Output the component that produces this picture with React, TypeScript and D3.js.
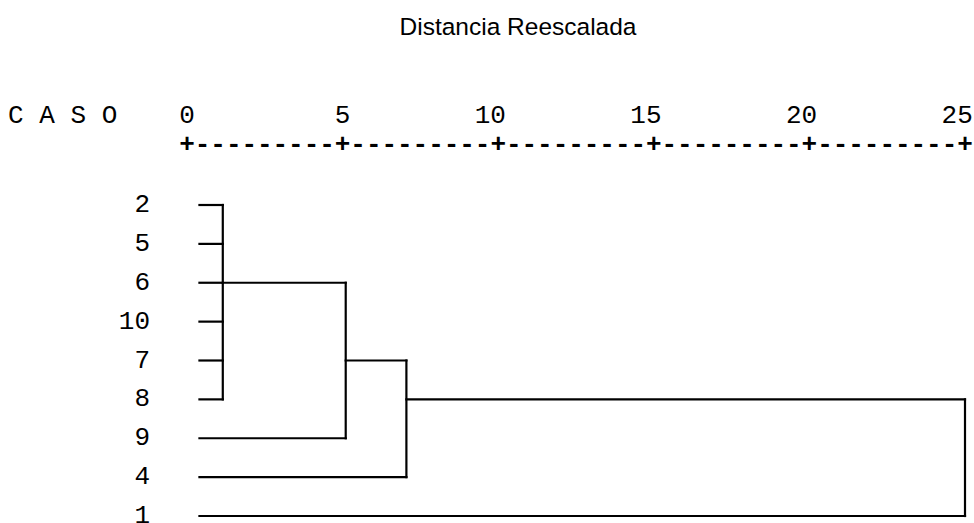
import * as d3 from 'd3';
import * as React from 'react';

const WIDTH = 974;
const HEIGHT = 523;

// case labels, top to bottom as they appear in the dendrogram
const cases = ['2', '5', '6', '10', '7', '8', '9', '4', '1'];
const axisTicks = [0, 5, 10, 15, 20, 25];
const leafStart = 0.4;

// agglomeration steps: children are leaf rows or previous merges,
// height is the rescaled distance, outRow the row the joined branch leaves from
type Child = { leaf?: number; merge?: number };
const mergeChildren: Child[][] = [
  [{ leaf: 0 }, { leaf: 1 }, { leaf: 2 }, { leaf: 3 }, { leaf: 4 }, { leaf: 5 }],
  [{ merge: 0 }, { leaf: 6 }],
  [{ merge: 1 }, { leaf: 7 }],
  [{ merge: 2 }, { leaf: 8 }],
];
const mergeHeights = [1.15, 5.1, 7.05, 25];
const mergeOutRows = [2, 4, 5, 5];

const MONO = '"Liberation Mono", "Courier New", monospace';

const App = () => {
  const x = d3.scaleLinear().domain([0, 25]).range([187, 965]);
  const y = d3.scalePoint<string>().domain(cases).range([205, 516]);
  const pitch = x(0.5) - x(0);

  const rowY = (r: number) => y(cases[r]) as number;

  const segments: { x1: number; y1: number; x2: number; y2: number }[] = [];
  mergeChildren.forEach((children, i) => {
    const h = x(mergeHeights[i]);
    const ys: number[] = [];
    children.forEach(c => {
      const cy = c.leaf !== undefined ? rowY(c.leaf) : rowY(mergeOutRows[c.merge as number]);
      const cx = c.leaf !== undefined ? x(leafStart) : x(mergeHeights[c.merge as number]);
      ys.push(cy);
      segments.push({ x1: cx, y1: cy, x2: h, y2: cy });
    });
    segments.push({ x1: h, y1: d3.min(ys) as number, x2: h, y2: d3.max(ys) as number });
  });

  // "+---------+" ruler, one character per half unit
  const rulerChars = d3.range(0, 51).map(i => ({
    pos: x(i * 0.5),
    ch: i % 10 === 0 ? '+' : '-',
  }));

  return (
    <svg
      width={WIDTH}
      height={HEIGHT}
      style={{ position: 'absolute', left: 0, top: 0, background: '#fff' }}
    >
      <text
        x={518}
        y={35}
        textAnchor="middle"
        fontFamily='"Liberation Sans", Arial, sans-serif'
        fontSize={24.5}
        fill="#000"
      >
        Distancia Reescalada
      </text>

      <text x={x(0) - 11 * pitch - pitch / 2} y={123} fontFamily={MONO} fontSize={26} fill="#000">
        C A S O
      </text>

      {axisTicks.map(t => (
        <text
          key={t}
          x={x(t) + pitch / 2}
          y={123}
          textAnchor="end"
          fontFamily={MONO}
          fontSize={26}
          fill="#000"
        >
          {t}
        </text>
      ))}

      {rulerChars.map((c, i) => (
        <text
          key={i}
          x={c.pos}
          y={152}
          textAnchor="middle"
          fontFamily={MONO}
          fontSize={26}
          fontWeight="bold"
          fill="#000"
        >
          {c.ch}
        </text>
      ))}

      {cases.map(c => (
        <text
          key={c}
          x={x(0) - 37}
          y={(y(c) as number) + 7}
          textAnchor="end"
          fontFamily={MONO}
          fontSize={26}
          fill="#000"
        >
          {c}
        </text>
      ))}

      <g stroke="#000" strokeWidth={2.2} strokeLinecap="square">
        {segments.map((s, i) => (
          <line key={i} x1={s.x1} y1={s.y1} x2={s.x2} y2={s.y2} />
        ))}
      </g>
    </svg>
  );
};

export default App;
